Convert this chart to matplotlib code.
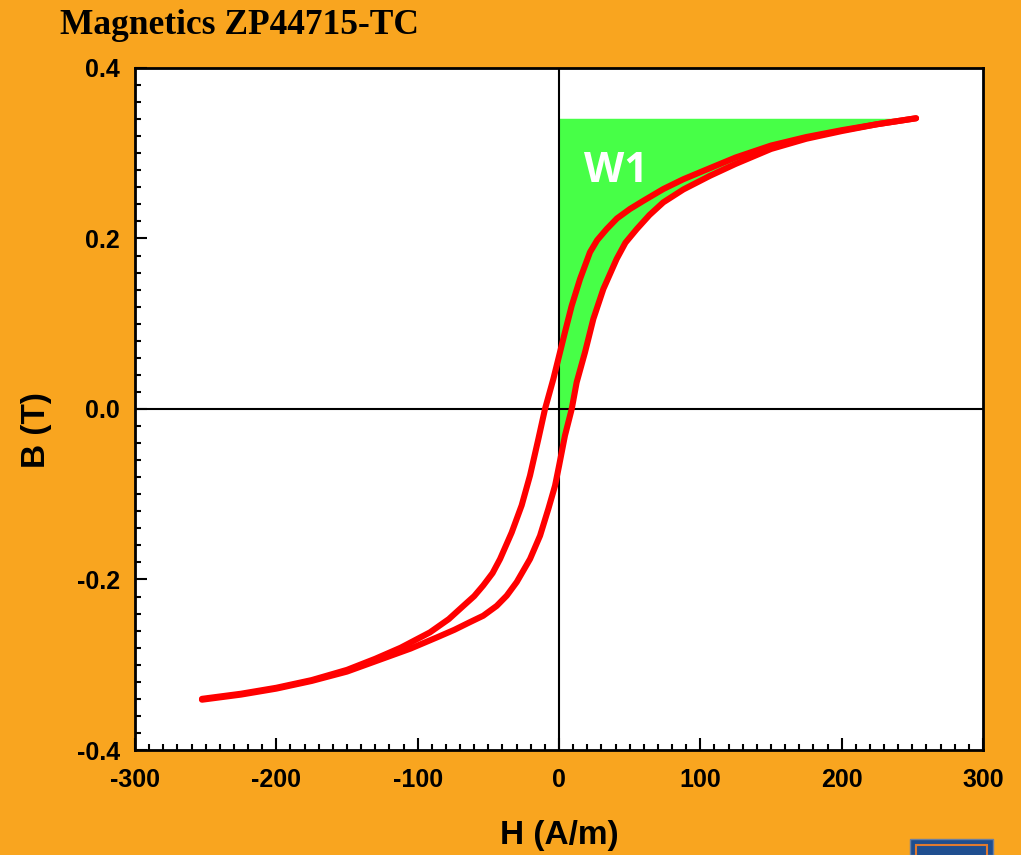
import matplotlib
matplotlib.use("Agg")
import matplotlib.pyplot as plt
from matplotlib.patches import Rectangle
import numpy as np

plt.rcParams["axes.unicode_minus"] = False

# galaz opadajaca (gorna), od +Hmax do -Hmax
h_desc = [252.6, 225, 200, 175, 150, 125, 106.8, 88, 73.8, 60, 50.2, 41, 33.7, 27, 21.9, 14.9,
          9.0, 4.2, 0.7, -4.0, -9.9, -14.6, -20.5, -26.4, -33.5, -41.7, -47, -53.6, -60,
          -67.7, -78, -91.3, -112, -130, -150, -175, -200, -225, -252.6]
b_desc = [0.341, 0.334, 0.327, 0.319, 0.309, 0.295, 0.2825, 0.2695, 0.258, 0.2445, 0.2346,
          0.2235, 0.211, 0.198, 0.1838, 0.1525, 0.1212, 0.090, 0.0665, 0.0352, 0.0, -0.0352,
          -0.078, -0.113, -0.145, -0.176, -0.1925, -0.207, -0.2195, -0.231, -0.2465, -0.262,
          -0.280, -0.293, -0.306, -0.318, -0.327, -0.334, -0.340]

# galaz rosnaca (dolna), od -Hmax do +Hmax
h_asc = [-252.6, -225, -200, -175, -150, -125, -105, -86.5, -74, -63.0, -53.6, -44.1, -37,
         -29.9, -20.5, -13.4, -7.5, -2.8, 0, 4.2, 9.0, 12.5, 18.4, 24.3, 31.4, 40.8, 47, 55.0,
         64, 73.8, 88, 106.8, 125, 150, 175, 200, 225, 252.6]
b_asc = [-0.341, -0.335, -0.328, -0.319, -0.308, -0.293, -0.281, -0.268, -0.259, -0.250,
         -0.2425, -0.231, -0.219, -0.203, -0.176, -0.1486, -0.117, -0.090, -0.067, -0.0313,
         0.0, 0.0313, 0.0665, 0.1056, 0.1408, 0.176, 0.195, 0.211, 0.2275, 0.2424, 0.2575,
         0.2735, 0.2875, 0.305, 0.317, 0.326, 0.334, 0.341]

titel = "Magnetics ZP44715-TC"
napis_obszar = "W1"

pomaranczowy = "#F9A51F"
zielony = "#47FF47"

fig = plt.figure(figsize=(10.21, 8.55), dpi=100, facecolor=pomaranczowy)
ax = fig.add_axes([0.1322, 0.1228, 0.8306, 0.7977])
ax.set_facecolor("white")

# obszar W1: miedzy osia B a galezia rosnaca (H >= 0)
h_a = np.array(h_asc)
b_a = np.array(b_asc)
maska = h_a >= 0
ax.fill_betweenx(b_a[maska], 0, h_a[maska], color=zielony, lw=0, zorder=1)

ax.axhline(0, color="black", lw=1.5, zorder=2)
ax.axvline(0, color="black", lw=1.5, zorder=2)

ax.plot(h_desc, b_desc, color="#FF0000", lw=4.4, solid_capstyle="round",
        solid_joinstyle="round", zorder=3)
ax.plot(h_asc, b_asc, color="#FF0000", lw=4.4, solid_capstyle="round",
        solid_joinstyle="round", zorder=3)

ax.text(18.0, 0.279, napis_obszar, color="white", fontsize=30, fontweight="bold",
        family="Open Sans", ha="left", va="center", zorder=4)

ax.set_xlim(-300, 300)
ax.set_ylim(-0.4, 0.4)
ax.set_xticks([-300, -200, -100, 0, 100, 200, 300])
ax.set_yticks([-0.4, -0.2, 0.0, 0.2, 0.4])
ax.set_yticklabels(["-0.4", "-0.2", "0.0", "0.2", "0.4"])
ax.set_xticks(np.arange(-300, 301, 10), minor=True)
ax.set_yticks(np.arange(-0.4, 0.401, 0.02), minor=True)
ax.tick_params(which="major", direction="in", length=8.5, width=1.5,
               labelsize=18, top=False, right=False)
ax.tick_params(axis="x", which="major", pad=13)
ax.tick_params(axis="y", which="major", pad=11)
ax.tick_params(which="minor", direction="in", length=4.3, width=1.5, top=False, right=False)
for lab in ax.get_xticklabels() + ax.get_yticklabels():
    lab.set_fontweight("bold")
    lab.set_family("Liberation Sans")
for sp in ax.spines.values():
    sp.set_linewidth(2)

fig.text(559 / 1021, 1 - 835 / 855, "H (A/m)", fontsize=24, fontweight="bold",
         family="Liberation Sans", ha="center", va="center")
fig.text(37 / 1021, 1 - 430 / 855, "B (T)", fontsize=24, fontweight="bold",
         family="Liberation Sans", ha="center", va="center", rotation=90)
fig.text(60 / 1021, 1 - 34 / 855, titel, fontsize=25.5, fontweight="bold",
         family="Liberation Serif", ha="left", va="baseline")

# logo w rogu
fig.patches.append(Rectangle((910 / 1021, 0), 83 / 1021, 16 / 855, transform=fig.transFigure,
                             facecolor="#1F4E8F", edgecolor="#6C7FA0", lw=1))
fig.patches.append(Rectangle((916 / 1021, -0.01), 71 / 1021, 10 / 855 + 0.01,
                             transform=fig.transFigure, facecolor="#1F4E8F",
                             edgecolor="#E07A30", lw=1.5))

fig.savefig("out.png", dpi=100, facecolor=pomaranczowy)
